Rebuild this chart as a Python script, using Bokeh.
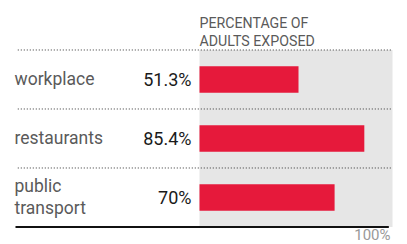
from bokeh.plotting import figure
from bokeh.models import Range1d, ColumnDataSource, Label
from bokeh.core.properties import value
from bokeh.embed import file_html
from bokeh.resources import INLINE

# ---- data ----
categories = ["workplace", "restaurants", "public transport"]
display_labels = ["workplace", "restaurants", "public\ntransport"]
values = [51.3, 85.4, 70.0]
value_labels = ["51.3%", "85.4%", "70%"]
header_lines = ["PERCENTAGE OF", "ADULTS EXPOSED"]
max_label = "100%"

rows = list(range(len(categories)))

src = ColumnDataSource(dict(
    y=rows,
    val=values,
    cat=display_labels,
    vlab=value_labels,
    cat_x=[-95.85] * len(rows),
    val_x=[-4.15] * len(rows),
))

# ---- figure ----
p = figure(width=407, height=244,
           x_range=Range1d(-103.109, 107.772),
           y_range=Range1d(2.79661, -1.33898),
           output_backend="svg", toolbar_location=None,
           min_border=0, x_axis_type=None, y_axis_type=None)
p.grid.visible = False
p.outline_line_color = None
p.background_fill_color = "white"
p.border_fill_color = "white"

MAIN = value("Roboto")

# grey panel 0..100%
p.quad(left=0, right=100, top=-0.5, bottom=len(rows) - 0.5,
       fill_color="#e6e6e6", line_color=None)

# dotted separators
seps = [r - 0.5 for r in rows]
p.segment(x0=[-94.15] * len(seps), x1=[100] * len(seps), y0=seps, y1=seps,
          line_color="#333333", line_width=1, line_dash="1 2")

# baseline
p.segment(x0=[-95.34], x1=[98.1], y0=[len(rows) - 0.5], y1=[len(rows) - 0.5],
          line_color="#111111", line_width=2.2)

# bars
p.hbar(y="y", left=0, right="val", height=0.45, source=src,
       fill_color="#e6193b", line_color=None)

# category labels
p.text(x="cat_x", y="y", text="cat", source=src,
       text_font=MAIN, text_font_size="17.5px", text_color="#5a5a5a",
       text_align="left", text_baseline="middle", text_line_height=1.1)

# value labels
p.text(x="val_x", y="y", text="vlab", source=src,
       text_font=MAIN, text_font_size="18px", text_color="#1a1a1a",
       text_align="right", text_baseline="middle")

# header
for txt, yy in zip(header_lines, [-0.966, -0.656]):
    p.add_layout(Label(x=0, y=yy, text=txt, text_font="Roboto",
                       text_font_size="14.2px", text_color="#5a5a5a",
                       text_align="left", text_baseline="alphabetic"))

# 100% label
p.add_layout(Label(x=98.96, y=2.63, text=max_label,
                   text_font="Roboto", text_font_size="15px",
                   text_color="#999999", text_align="right",
                   text_baseline="alphabetic"))

open("out.html", "w").write(file_html(p, INLINE))
